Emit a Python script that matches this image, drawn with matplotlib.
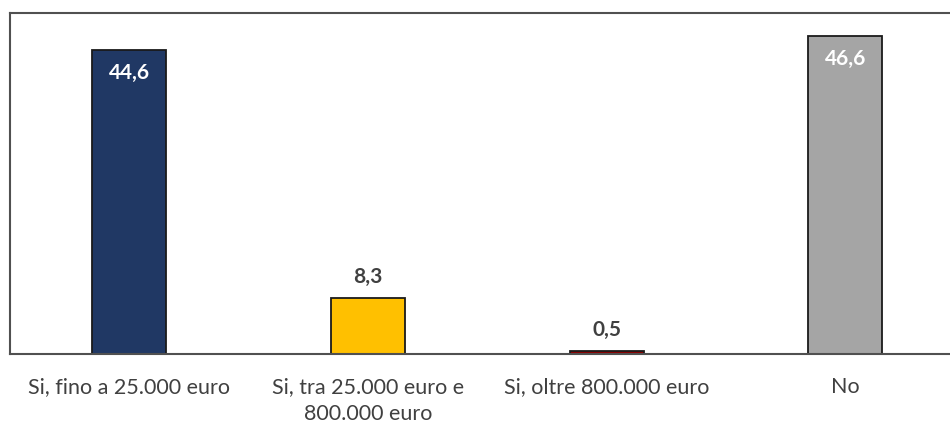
import matplotlib.pyplot as plt

categorie = ["Si, fino a 25.000 euro", "Si, tra 25.000 euro e\n800.000 euro",
             "Si, oltre 800.000 euro", "No"]
valori = [44.6, 8.3, 0.5, 46.6]
colori = ["#203864", "#FFC000", "#8B0000", "#A5A5A5"]
etichette_interne = [True, False, False, True]

plt.rcParams['font.family'] = ['Lato', 'DejaVu Sans']

fig = plt.figure(figsize=(9.5, 4.23), dpi=100)
ax = fig.add_axes([0.0105, 0.162, 1.005, 0.808])

x = range(len(categorie))
bars = ax.bar(x, valori, width=0.31, color=colori, edgecolor="#1a1a1a", linewidth=1.3)

for b, v, dentro in zip(bars, valori, etichette_interne):
    testo = f"{v:.1f}".replace(".", ",")
    cx = b.get_x() + b.get_width() / 2
    if dentro:
        ax.annotate(testo, (cx, v), xytext=(0, -23), textcoords="offset pixels",
                    ha="center", va="center", color="white", fontsize=15, fontweight="bold")
    else:
        ax.annotate(testo, (cx, v), xytext=(0, 21), textcoords="offset pixels",
                    ha="center", va="center", color="#404040", fontsize=15, fontweight="bold")

ax.set_xlim(-0.5, 3.5)
ax.set_ylim(0, 50)
ax.set_xticks(list(x))
ax.set_xticklabels(categorie, fontsize=15.5, color="#404040", linespacing=1.45)
ax.tick_params(axis="x", length=0, pad=16)
ax.set_yticks([])

for lato in ["left", "top", "bottom"]:
    ax.spines[lato].set_color("#505050")
    ax.spines[lato].set_linewidth(1.5)
ax.spines["right"].set_visible(False)

fig.savefig("out.png", dpi=100)
